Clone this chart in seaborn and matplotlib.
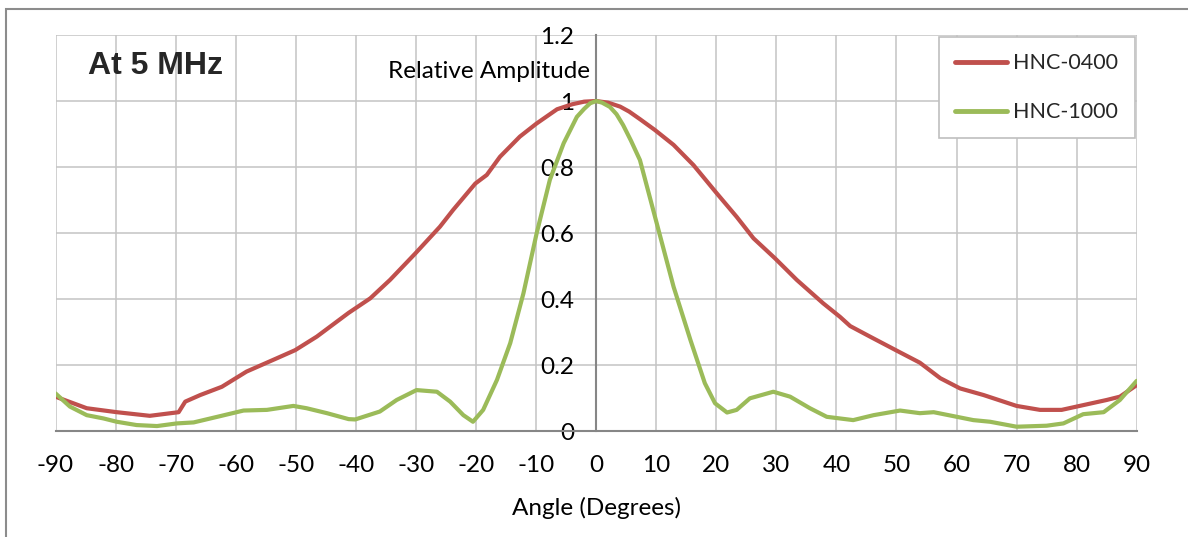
import matplotlib
matplotlib.use("Agg")
import matplotlib.pyplot as plt
import matplotlib.patches as mpatches
import matplotlib.ticker as mticker
import seaborn as sns
import pandas as pd

# ---- data ----
angle_0400 = [-90, -84.8, -79.8, -74.3, -69.5, -68.4, -65.9, -62.3, -58.2, -53.2, -50.1, -46.5,
              -41.2, -37.6, -34.3, -30.1, -26.0, -23.8, -20.1, -18.2, -16.0, -12.7, -9.9, -6.5,
              -4.0, -2.0, 0, 2.0, 4.0, 5.5, 7.3, 9.8, 12.9, 16.2, 20.1, 23.4, 26.2, 29.8, 33.4,
              37.8, 40.6, 42.3, 45.6, 50.1, 53.9, 57.3, 60.6, 64.5, 70.0, 73.9, 77.5, 80.0, 85.0,
              87.2, 90]
amp_0400 = [0.104, 0.069, 0.057, 0.046, 0.057, 0.089, 0.109, 0.134, 0.180, 0.220, 0.245, 0.286,
            0.358, 0.402, 0.458, 0.538, 0.619, 0.670, 0.750, 0.776, 0.831, 0.892, 0.932, 0.975,
            0.990, 0.998, 1.000, 0.995, 0.983, 0.968, 0.945, 0.912, 0.867, 0.806, 0.720, 0.649,
            0.584, 0.523, 0.458, 0.387, 0.346, 0.318, 0.286, 0.243, 0.207, 0.160, 0.129, 0.109,
            0.076, 0.064, 0.064, 0.074, 0.094, 0.104, 0.139]

angle_1000 = [-90, -87.6, -84.8, -82.0, -79.8, -76.5, -73.1, -69.8, -67.0, -62.6, -58.7, -54.8,
              -50.4, -48.2, -44.8, -41.2, -40.1, -36.0, -33.2, -29.9, -26.5, -24.3, -22.1, -20.5,
              -18.8, -16.5, -14.3, -12.1, -9.9, -7.7, -5.4, -3.2, -2.0, -1.0, 0, 1.0, 2.3, 3.4,
              4.5, 5.8, 7.3, 10.1, 12.9, 15.7, 18.1, 19.8, 21.8, 23.4, 25.6, 29.5, 32.3, 35.6,
              38.4, 42.8, 46.2, 50.6, 53.9, 56.2, 62.8, 65.6, 70.0, 75.0, 77.8, 81.1, 84.5,
              87.2, 90]
amp_1000 = [0.114, 0.074, 0.048, 0.038, 0.028, 0.018, 0.015, 0.023, 0.026, 0.045, 0.062, 0.064,
            0.076, 0.069, 0.054, 0.036, 0.035, 0.059, 0.094, 0.124, 0.119, 0.089, 0.048, 0.028,
            0.064, 0.155, 0.266, 0.417, 0.599, 0.761, 0.872, 0.952, 0.976, 0.993, 1.000, 0.995,
            0.982, 0.960, 0.927, 0.880, 0.821, 0.629, 0.437, 0.276, 0.145, 0.084, 0.056, 0.064,
            0.099, 0.119, 0.104, 0.069, 0.043, 0.033, 0.048, 0.062, 0.054, 0.057, 0.033, 0.028,
            0.013, 0.016, 0.023, 0.051, 0.057, 0.094, 0.152]

series_names = ["HNC-0400", "HNC-1000"]
x_ticks = list(range(-90, 91, 10))
y_ticks = [0, 0.2, 0.4, 0.6, 0.8, 1.0, 1.2]
title_text = "At 5 MHz"
x_label = "Angle (Degrees)"
y_label = "Relative Amplitude"
colors = ["#C0504D", "#9BBB59"]

df = pd.concat([
    pd.DataFrame({"Angle": angle_0400, "Amp": amp_0400, "Series": series_names[0]}),
    pd.DataFrame({"Angle": angle_1000, "Amp": amp_1000, "Series": series_names[1]}),
], ignore_index=True)

# ---- styling ----
sns.set_style("white")
plt.rcParams["font.family"] = ["Lato", "DejaVu Sans"]

fig = plt.figure(figsize=(11.88, 5.37), dpi=100)
ax = fig.add_axes([55.5 / 1188, 1 - 431 / 537, (1136.7 - 55.5) / 1188, (431 - 35) / 537])

sns.lineplot(data=df, x="Angle", y="Amp", hue="Series", palette=colors,
             linewidth=3.0, ax=ax, sort=False, estimator=None, zorder=3)
for ln in ax.get_lines():
    ln.set_solid_joinstyle("round")
    ln.set_solid_capstyle("round")

ax.set_xlim(-90, 90)
ax.set_ylim(0, 1.2)
ax.set_xticks(x_ticks)
ax.set_yticks(y_ticks)
ax.yaxis.set_major_formatter(mticker.FuncFormatter(lambda v, p: f"{v:g}"))
ax.xaxis.set_major_formatter(mticker.FuncFormatter(lambda v, p: f"{int(v)}"))

ax.grid(True, color="#c4c4c4", linewidth=1.1, zorder=0)
ax.set_axisbelow(True)

for s in ["top", "right"]:
    ax.spines[s].set_visible(False)
ax.spines["left"].set_position(("data", 0))
ax.spines["left"].set_color("#868686")
ax.spines["left"].set_linewidth(1.5)
ax.spines["bottom"].set_color("#868686")
ax.spines["bottom"].set_linewidth(1.5)

ax.tick_params(axis="y", direction="out", length=6, width=1.2, color="#868686",
               pad=10, labelsize=17.5, labelcolor="black")
ax.tick_params(axis="x", direction="out", length=6, width=1.2, color="#868686",
               pad=11, labelsize=17.5, labelcolor="black")

ax.set_xlabel("")
ax.set_ylabel("")
ax.text(-1, 1.088, y_label, ha="right", va="center", fontsize=17.5, color="black")
fig.text(596 / 1188, 1 - 508 / 537, x_label, ha="center", va="center", fontsize=17.5, color="black")
fig.text(88 / 1188, 1 - 66 / 537, title_text, ha="left", va="center", fontsize=23,
         fontweight="bold", color="#262626", family=["Liberation Sans", "DejaVu Sans"])

leg = ax.legend(loc="upper right", bbox_to_anchor=(0.998, 0.995), borderaxespad=0,
                fontsize=15.5, handlelength=2.4, labelspacing=1.35, frameon=True,
                fancybox=False, edgecolor="#bfbfbf", borderpad=0.75, handletextpad=0.3)
leg.get_frame().set_linewidth(1.2)
leg.get_frame().set_facecolor("white")
leg.get_frame().set_alpha(1)
for ln in leg.get_lines():
    ln.set_linewidth(3.5)
    ln.set_solid_capstyle("round")

# outer chart border
fig.patches.append(mpatches.Rectangle((6 / 1188, -0.1), 1.2, 1 - 9 / 537 + 0.1,
                                      transform=fig.transFigure, fill=False,
                                      edgecolor="#8c8c8c", linewidth=1.5))

fig.savefig("out.png", dpi=100)
